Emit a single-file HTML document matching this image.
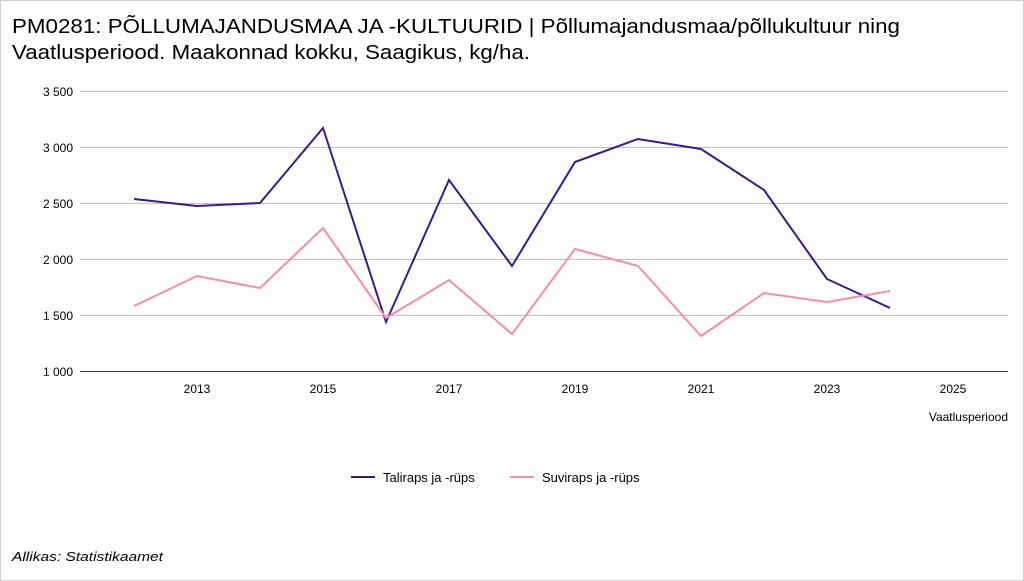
<!DOCTYPE html>
<html><head><meta charset="utf-8"><style>
html,body{margin:0;padding:0;background:#fff;}
body{width:1024px;height:581px;overflow:hidden;position:relative;font-family:"Liberation Sans",sans-serif;}
.frame{position:absolute;left:0;top:0;width:1022px;height:579px;border:1px solid #d0d0d0;}
</style></head><body>
<div class="frame"></div>
<svg width="1024" height="581" style="position:absolute;left:0;top:0" font-family="Liberation Sans, sans-serif">
<text x="12" y="33" font-size="20" fill="#000" textLength="888" lengthAdjust="spacingAndGlyphs">PM0281: PÕLLUMAJANDUSMAA JA -KULTUURID | Põllumajandusmaa/põllukultuur ning</text>
<text x="12" y="59" font-size="20" fill="#000" textLength="518" lengthAdjust="spacingAndGlyphs">Vaatlusperiood. Maakonnad kokku, Saagikus, kg/ha.</text>
<g stroke="#c0c0c0" stroke-width="1">
<line x1="80" y1="91.5" x2="1008" y2="91.5"/>
<line x1="80" y1="147.5" x2="1008" y2="147.5"/>
<line x1="80" y1="203.5" x2="1008" y2="203.5"/>
<line x1="80" y1="259.5" x2="1008" y2="259.5"/>
<line x1="80" y1="315.5" x2="1008" y2="315.5"/>
</g>
<line x1="80" y1="371.5" x2="1008" y2="371.5" stroke="#333" stroke-width="1"/>
<g font-size="12" fill="#000" text-anchor="end">
<text x="73" y="96">3 500</text><text x="73" y="152">3 000</text><text x="73" y="208">2 500</text>
<text x="73" y="264">2 000</text><text x="73" y="320">1 500</text><text x="73" y="376">1 000</text>
</g>
<g font-size="12" fill="#000" text-anchor="middle">
<text x="197" y="393">2013</text><text x="323" y="393">2015</text><text x="449" y="393">2017</text>
<text x="575" y="393">2019</text><text x="701" y="393">2021</text><text x="827" y="393">2023</text><text x="953" y="393">2025</text>
</g>
<text x="1008" y="421" font-size="12" text-anchor="end">Vaatlusperiood</text>
<polyline fill="none" stroke="#3b1a8c" stroke-width="2" points="134,199 197,206 260,203 323,128 386,322 449,180 512,266 575,162 638,139 701,149 764,190 827,279 890,308"/>
<polyline fill="none" stroke="#f58ca8" stroke-width="2" points="134,306 197,276 260,288 323,228 386,318 449,280 512,334 575,249 638,266 701,336 764,293 827,302 890,291"/>
<line x1="351" y1="477" x2="375" y2="477" stroke="#3b1a8c" stroke-width="2"/>
<text x="383" y="482" font-size="13">Taliraps ja -rüps</text>
<line x1="510" y1="477" x2="534" y2="477" stroke="#f58ca8" stroke-width="2"/>
<text x="542" y="482" font-size="13">Suviraps ja -rüps</text>
<text x="12" y="561" font-size="13" font-style="italic" textLength="151" lengthAdjust="spacingAndGlyphs">Allikas: Statistikaamet</text>
</svg>
</body></html>
